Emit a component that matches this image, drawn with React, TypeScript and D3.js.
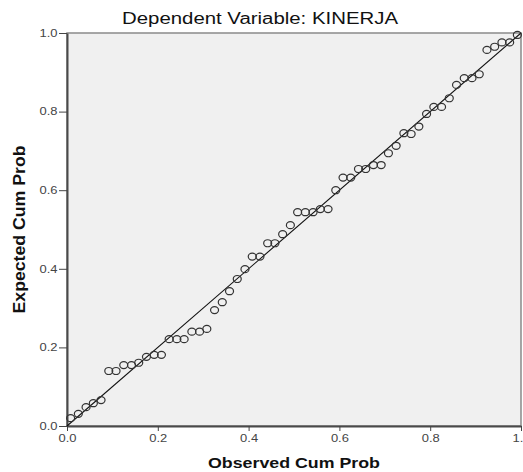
import React, { useEffect, useRef } from "react";
import * as d3 from "d3";

// P-P plot of regression standardized residual
const observedCumProb = [
  0.008, 0.025, 0.042, 0.058, 0.075, 0.092, 0.108, 0.125, 0.142, 0.158,
  0.175, 0.192, 0.208, 0.225, 0.242, 0.258, 0.275, 0.292, 0.308, 0.325,
  0.342, 0.358, 0.375, 0.392, 0.408, 0.425, 0.442, 0.458, 0.475, 0.492,
  0.508, 0.525, 0.542, 0.558, 0.575, 0.592, 0.608, 0.625, 0.642, 0.658,
  0.675, 0.692, 0.708, 0.725, 0.742, 0.758, 0.775, 0.792, 0.808, 0.825,
  0.842, 0.858, 0.875, 0.892, 0.908, 0.925, 0.942, 0.958, 0.975, 0.992,
];

const expectedCumProb = [
  0.020, 0.031, 0.048, 0.058, 0.066, 0.140, 0.140, 0.155, 0.155, 0.161,
  0.176, 0.181, 0.181, 0.221, 0.221, 0.221, 0.240, 0.240, 0.247, 0.295,
  0.315, 0.343, 0.374, 0.399, 0.431, 0.431, 0.465, 0.465, 0.488, 0.511,
  0.544, 0.544, 0.544, 0.552, 0.552, 0.600, 0.632, 0.632, 0.654, 0.654,
  0.664, 0.664, 0.694, 0.713, 0.745, 0.743, 0.762, 0.794, 0.812, 0.812,
  0.834, 0.868, 0.885, 0.885, 0.895, 0.957, 0.965, 0.976, 0.976, 0.995,
];

const tickValues = [0, 0.2, 0.4, 0.6, 0.8, 1.0];
const tickLabels = ["0.0", "0.2", "0.4", "0.6", "0.8", "1.0"];

const chartTitle = "Dependent Variable: KINERJA";
const xTitle = "Observed Cum Prob";
const yTitle = "Expected Cum Prob";

const W = 523;
const H = 472;
const FONT = "'Liberation Sans', Arial, sans-serif";

export default function App() {
  const ref = useRef<SVGSVGElement | null>(null);

  useEffect(() => {
    const svg = d3.select(ref.current);
    svg.selectAll("*").remove();

    const margin = { top: 33, right: 2, bottom: 46, left: 67 };
    const x = d3.scaleLinear().domain([0, 1]).range([margin.left, W - margin.right]);
    const y = d3.scaleLinear().domain([0, 1]).range([H - margin.bottom, margin.top]);

    // plot background
    svg.append("rect")
      .attr("x", x(0))
      .attr("y", y(1))
      .attr("width", x(1) - x(0))
      .attr("height", y(0) - y(1))
      .attr("fill", "#f0f0f0")
      .attr("stroke", "#8a8a8a")
      .attr("stroke-width", 1.5);

    // axes
    const yAxis = svg.append("g")
      .attr("transform", `translate(${x(0)},0)`)
      .call(d3.axisLeft(y).tickValues(tickValues).tickSize(8).tickSizeOuter(0).tickFormat((_, i) => tickLabels[i]));
    const xAxis = svg.append("g")
      .attr("transform", `translate(0,${y(0)})`)
      .call(d3.axisBottom(x).tickValues(tickValues).tickSize(5).tickSizeOuter(0).tickFormat((_, i) => tickLabels[i]));

    [yAxis, xAxis].forEach((g) => {
      g.select(".domain").attr("stroke", "#4a4a4a").attr("stroke-width", 2);
      g.selectAll(".tick line").attr("stroke", "#444").attr("stroke-width", 1);
      g.selectAll(".tick text")
        .attr("fill", "#444")
        .style("font-family", FONT)
        .style("font-size", "10px")
        .attr("textLength", 18)
        .attr("lengthAdjust", "spacingAndGlyphs");
    });
    yAxis.selectAll(".tick text").attr("x", -9.5);
    xAxis.selectAll(".tick text").attr("y", 8.5);

    // reference diagonal
    svg.append("line")
      .attr("x1", x(0))
      .attr("y1", y(0))
      .attr("x2", x(1))
      .attr("y2", y(1))
      .attr("stroke", "#111")
      .attr("stroke-width", 1.1);

    // points
    svg.append("g")
      .selectAll("ellipse")
      .data(observedCumProb)
      .join("ellipse")
      .attr("cx", (d) => x(d))
      .attr("cy", (_, i) => y(expectedCumProb[i]))
      .attr("rx", 4)
      .attr("ry", 3.5)
      .attr("fill", "none")
      .attr("stroke", "#333")
      .attr("stroke-width", 1.2);

    // title
    svg.append("text")
      .attr("x", 260)
      .attr("y", 24)
      .attr("text-anchor", "middle")
      .attr("textLength", 276)
      .attr("lengthAdjust", "spacingAndGlyphs")
      .style("font-family", FONT)
      .style("font-size", "16px")
      .attr("fill", "#111")
      .text(chartTitle);

    // x axis title
    svg.append("text")
      .attr("x", 294)
      .attr("y", 468)
      .attr("text-anchor", "middle")
      .attr("textLength", 172)
      .attr("lengthAdjust", "spacingAndGlyphs")
      .style("font-family", FONT)
      .style("font-size", "15px")
      .style("font-weight", "bold")
      .attr("fill", "#111")
      .text(xTitle);

    // y axis title
    svg.append("text")
      .attr("transform", `translate(25,${(y(0) + y(1)) / 2}) rotate(-90)`)
      .attr("text-anchor", "middle")
      .attr("textLength", 168)
      .attr("lengthAdjust", "spacingAndGlyphs")
      .style("font-family", FONT)
      .style("font-size", "16px")
      .style("font-weight", "bold")
      .attr("fill", "#111")
      .text(yTitle);
  }, []);

  return (
    <>
      <style>{`body{margin:0;}`}</style>
      <svg ref={ref} width={W} height={H} style={{ display: "block", background: "#fff" }} />
    </>
  );
}
